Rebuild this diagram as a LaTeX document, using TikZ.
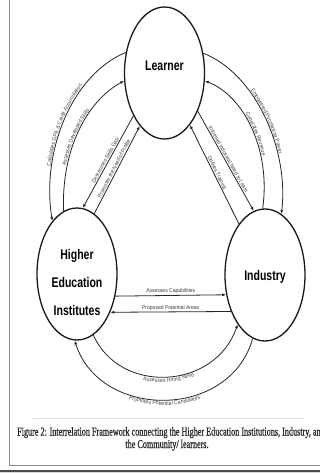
\documentclass[tikz,border=0pt]{standalone}
\usepackage{fontspec}
\usetikzlibrary{shapes.geometric, arrows.meta, decorations.text}
\newfontfamily\nodefam[FakeStretch=0.75]{Liberation Sans}
\newfontfamily\labfam[FakeStretch=0.9]{Liberation Sans}
\newfontfamily\capfam[FakeStretch=0.68,FakeBold=0.6]{Liberation Serif}
\newcommand\mylab{\labfam\fontsize{5.6}{7}\selectfont}
\begin{document}
\begin{tikzpicture}[x=1pt,y=-1pt,
  blob/.style={ellipse, draw=black!90, line width=1.3pt, minimum width=80pt, minimum height=132pt, inner sep=0pt},
  title/.style={font=\nodefam\bfseries\fontsize{14}{28}\selectfont, text=black, inner sep=0pt},
  conn/.style={draw=black!85, line width=0.8pt},
  fwd/.style={conn, -{Latex[length=4pt,width=3pt]}},
  bwd/.style={conn, {Latex[length=4pt,width=3pt]}-},
  lbl/.style={font=\mylab, text=black!75, inner sep=1pt},
  captxt/.style={font=\capfam\fontsize{12}{14}\selectfont, text=black!85, inner sep=0pt},
]
\useasboundingbox (0,0) rectangle (320,473);
\fill[white] (0,0) rectangle (320,473);
% frame
\draw[black!45, line width=0.8pt] (9,0) -- (9,465) -- (321,465);
\fill[black!15] (0,472) rectangle (320,473);
\draw[black!70, line width=1.5pt] (0,471) -- (320,471);
\draw[black!12, line width=0.6pt] (33,418) -- (305,418);

% nodes
\node[blob] (L) at (164.5,73) {};
\node[title] (Lt) at (164.5,66) {Learner};
\node[blob] (H) at (77,274) {};
\node[title, align=center] (Ht) at (77,282) {Higher\\Education\\Institutes};
\node[blob] (I) at (265,275) {};
\node[title] (It) at (265,277) {Industry};

% left outer arc: Learner -> HEI
\draw[bwd] (H.115) .. controls (41,150) and (73,74) .. (L.152);
\path[decorate, decoration={text along path, text align=center, raise=1.3pt,
  text={|\mylab\color{black!75}|Calculates GPA {\&} Credit Accumulation}}]
  (H.115) .. controls (41,150) and (73,74) .. (L.152);
% left inner arc: HEI -> Learner
\draw[fwd] (H.102) .. controls (61,150) and (87,101) .. (L.191);
\path[decorate, decoration={text along path, text align=center, raise=1.3pt,
  text={|\mylab\color{black!75}|Assesses Developed Skills}}]
  (H.102) .. controls (61,150) and (87,101) .. (L.191);
% left straight lines
\draw[bwd] (H.85) -- (L.234);
\path[decorate, decoration={text along path, text align=center, raise=1.3pt,
  text={|\mylab\color{black!75}|Determines Skills Gap}}]
  (H.85) -- (L.234);
\draw[fwd] (H.74) -- (L.245);
\path[decorate, decoration={text along path, text align=center, raise=1.3pt,
  text={|\mylab\color{black!75}|Promotes the Need of Profile}}]
  (H.74) -- (L.245);

% right outer arc: Learner -> Industry
\draw[fwd] (L.27) .. controls (256,74) and (289,150) .. (I.75);
\path[decorate, decoration={text along path, text align=center, raise=1.3pt,
  text={|\mylab\color{black!75}|Empowered Purchasing Power}}]
  (L.27) .. controls (256,74) and (289,150) .. (I.75);
% right inner arc: Industry -> Learner
\draw[bwd] (L.349) .. controls (244,96) and (271,150) .. (I.92);
\path[decorate, decoration={text along path, text align=center, raise=1.3pt,
  text={|\mylab\color{black!75}|Generates Revenue}}]
  (L.349) .. controls (244,96) and (271,150) .. (I.92);
% right straight lines
\draw[fwd] (L.311) -- (I.100);
\path[decorate, decoration={text along path, text align=center, raise=1.3pt,
  text={|\mylab\color{black!75}|Informed Industrial Need to Learn}}]
  (L.311) -- (I.100);
\draw[bwd] (L.296) -- (I.117);
\path[decorate, decoration={text along path, text align=center, raise=1.3pt,
  text={|\mylab\color{black!75}|Defines Training}}]
  (L.296) -- (I.117);

% horizontal
\draw[fwd] (H.330.7) -- node[lbl, above] (a1) {Assesses Capabilities} (I.207.7);
\draw[bwd] (H.311.5) -- node[lbl, above] (a2) {Proposed Potential Areas} (I.227.1);

% bottom arcs
\draw[fwd] (H.285) .. controls (120,395) and (215,390) .. (I.241);
\path[decorate, decoration={text along path, text align=center, raise=-5.3pt,
  text={|\mylab\color{black!75}|Assesses Hiring Need}}]
  (H.285) .. controls (120,395) and (215,390) .. (I.241);
\draw[bwd] (H.268) .. controls (100,420) and (230,420) .. (I.259);
\path[decorate, decoration={text along path, text align=center, raise=-5.3pt,
  text={|\mylab\color{black!75}|Promotes Potential Candidates}}]
  (H.268) .. controls (100,420) and (230,420) .. (I.259);

% caption
\node[captxt, anchor=base west] (cap1) at (17,435.5) {Figure 2: Interrelation Framework connecting the Higher Education Institutions, Industry, and};
\node[captxt, anchor=base] (cap2) at (167,448) {the Community/ learners.};
\end{tikzpicture}
\end{document}
